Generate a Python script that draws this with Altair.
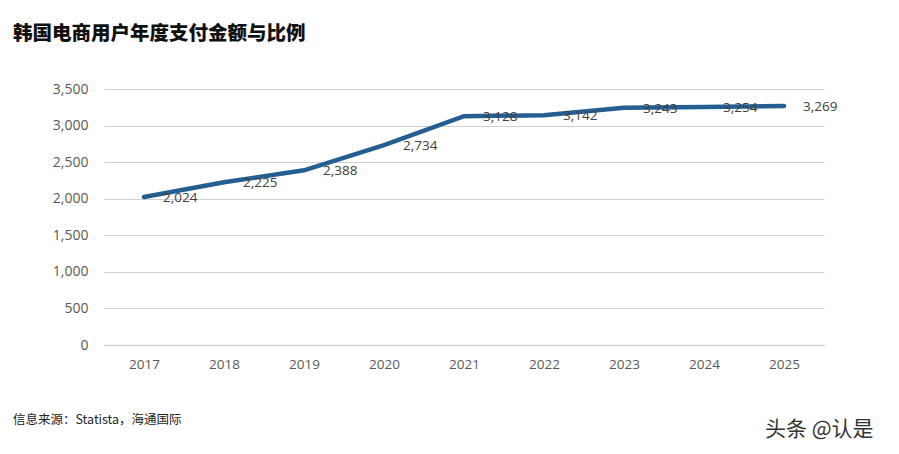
import altair as alt
import pandas as pd

years = ["2017", "2018", "2019", "2020", "2021", "2022", "2023", "2024", "2025"]
values = [2024, 2225, 2388, 2734, 3128, 3142, 3243, 3254, 3269]
y_ticks = [0, 500, 1000, 1500, 2000, 2500, 3000, 3500]

title_text = "韩国电商用户年度支付金额与比例"
source_text = "信息来源：Statista，海通国际"
watermark_text = "头条 @认是"

df = pd.DataFrame({"year": years, "value": values})
df["label"] = [f"{v:,}" for v in values]

W, H = 720, 256

base = alt.Chart(df).encode(
    x=alt.X("year:O", sort=years, title=None,
            scale=alt.Scale(type="point", padding=0.5),
            axis=alt.Axis(labelAngle=0, ticks=False, domain=True, grid=False,
                          domainColor="#d0d0d0", domainWidth=1.5,
                          labelFont="Open Sans", labelFontSize=13.5,
                          labelColor="#595959", labelPadding=12)),
    y=alt.Y("value:Q", title=None,
            scale=alt.Scale(domain=[0, 3500], nice=False),
            axis=alt.Axis(values=y_ticks, format=",.0f", ticks=False, domain=False,
                          gridColor="#d0d0d0", gridWidth=1.2,
                          labelFont="Open Sans", labelFontSize=14,
                          labelColor="#595959", labelPadding=16)),
)

line = base.mark_line(color="#255E91", strokeWidth=4.5, strokeCap="round")
labels = base.mark_text(align="left", baseline="middle", dx=19, dy=1,
                        font="Open Sans", fontSize=13.5, color="#404040").encode(
    text="label:N")

notes = pd.DataFrame({"t": [source_text]})
source = alt.Chart(notes).mark_text(align="left", baseline="middle",
                                    font="Noto Sans CJK SC", fontSize=12.5,
                                    color="#222222").encode(
    text="t:N", x=alt.value(-91), y=alt.value(331))

wm = pd.DataFrame({"t": [watermark_text]})
watermark = alt.Chart(wm).mark_text(align="left", baseline="middle",
                                    font="Noto Sans CJK SC", fontSize=21,
                                    color="#333333").encode(
    text="t:N", x=alt.value(661), y=alt.value(341))

chart = alt.layer(line, labels, source, watermark).properties(
    width=W, height=H,
    background="white",
    title=alt.Title(title_text, anchor="start", dx=-91, offset=38,
                    font="Noto Sans CJK SC", fontSize=19.5, fontWeight=900,
                    color="#111111", frame="group"),
    autosize=alt.AutoSizeParams(type="none"),
    padding={"left": 96, "top": 81, "right": 67, "bottom": 101},
).configure_view(stroke=None)

chart.save("out.html", embed_options={"renderer": "svg", "actions": False})
